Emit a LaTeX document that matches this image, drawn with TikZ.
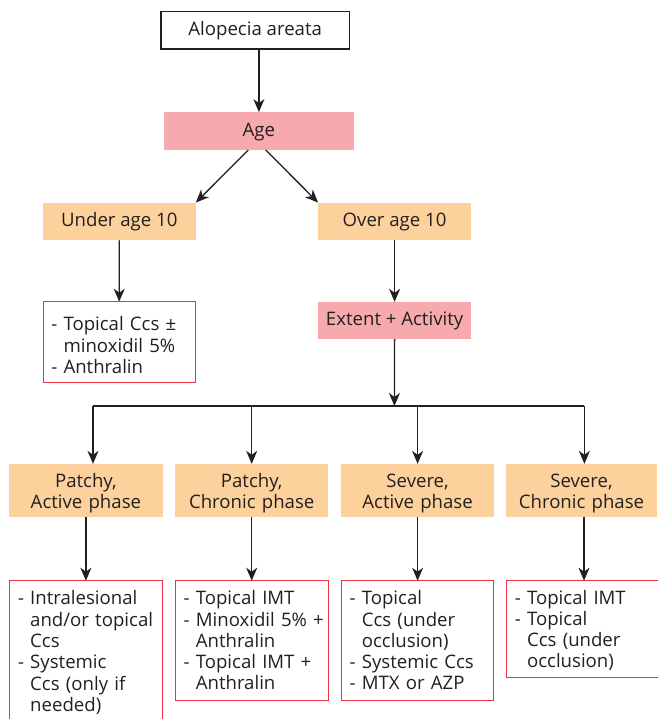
\documentclass[tikz,border=0pt]{standalone}
\usepackage{fontspec}
\setmainfont{Open Sans}
\usetikzlibrary{arrows.meta}
\definecolor{txt}{HTML}{231F20}
\definecolor{pinkf}{HTML}{F6AAAD}
\definecolor{peach}{HTML}{FDD19C}
\definecolor{redb}{HTML}{E8333E}
\newcommand\ind{\hphantom{-\ }}
\newcommand\lns[1]{\begin{tabular}{@{}l@{}}#1\end{tabular}}
\newcommand\ctr[1]{\begin{tabular}{@{}c@{}}#1\end{tabular}}
\begin{document}
\begin{tikzpicture}[x=1pt,y=-1pt, color=txt,
  every node/.style={font=\fontsize{18.6}{21.3}\selectfont, inner sep=0pt},
  box/.style 2 args={rectangle, minimum width=#1, minimum height=#2},
  one/.style={text height=14pt, text depth=3pt},
  topbox/.style 2 args={box={#1}{#2}, one, draw=txt, line width=1.3pt, fill=white},
  pinkbox/.style 2 args={box={#1}{#2}, one, fill=pinkf},
  peachbox/.style 2 args={box={#1}{#2}, one, fill=peach},
  peachtwo/.style 2 args={box={#1}{#2}, fill=peach, text width=#1, align=center, execute at begin node={\vspace*{-7.3pt}}},
  listbox/.style 2 args={box={#1}{#2}, inner xsep=8pt, text width=#1-16pt, align=left, execute at begin node={\vspace*{-5pt}}},
  frame/.style={draw=redb, line width=1.2pt},
  conn/.style={draw=txt, line width=1.3pt},
  arr/.style={conn, -{Stealth[length=13pt,width=11pt,inset=4pt]}}
]
\useasboundingbox (0,0) rectangle (657,719);

\node[topbox={188.3pt}{37.3pt}] (aa) at (255.2,30.3) {Alopecia areata};
\node[pinkbox={189.7pt}{37.4pt}] (age) at (258.9,131) {Age};
\node[peachbox={152.7pt}{37.3pt}] (u10) at (119.3,221.4) {Under age 10};
\node[peachbox={152.7pt}{37.3pt}] (o10) at (394.6,221.4) {Over age 10};
\node[listbox={151.7pt}{80pt}, anchor=north, execute at begin node={\vspace*{-7pt}}] (t1) at (119.2,301.7) {\lns{- Topical Ccs ±\\\ind minoxidil 5\%\\- Anthralin}};
\node[pinkbox={152.7pt}{36.7pt}] (ea) at (394.6,320.4) {Extent + Activity};

\node[peachtwo={153.3pt}{52.7pt}] (p1) at (85.9,490.4) {\ctr{Patchy,\\Active phase}};
\node[peachtwo={153.3pt}{52.7pt}] (p2) at (251.7,490.4) {\ctr{Patchy,\\Chronic phase}};
\node[peachtwo={153.3pt}{52.7pt}] (p3) at (417.6,490.4) {\ctr{Severe,\\Active phase}};
\node[peachtwo={151pt}{52.7pt}] (p4) at (581.5,490.4) {\ctr{Severe,\\Chronic phase}};

\node[listbox={152.3pt}{141pt}, anchor=north] (ba) at (86.2,580.7) {\lns{- Intralesional\\\ind and/or topical\\\ind Ccs\\- Systemic\\\ind Ccs (only if\\\ind needed)}};
\node[listbox={152.7pt}{119.3pt}, anchor=north] (bb) at (252,580.7) {\lns{- Topical IMT\\- Minoxidil 5\% +\\\ind Anthralin\\- Topical IMT +\\\ind Anthralin}};
\node[listbox={151.7pt}{119.3pt}, anchor=north] (bc) at (417.5,580.7) {\lns{- Topical\\\ind Ccs (under\\\ind occlusion)\\- Systemic Ccs\\- MTX or AZP}};
\node[listbox={152pt}{96.7pt}, anchor=north west] (bd) at (506.7,580.7) {\lns{- Topical IMT\\- Topical\\\ind Ccs (under\\\ind occlusion)}};

\draw[arr] (age.north |- aa.south) -- (age.north);
\draw[arr] ([xshift=-10.6pt]age.south) -- (u10.north east);
\draw[arr] ([xshift=6.8pt]age.south) -- (o10.north west);
\draw[arr] (u10.south) -- (t1.north);
\draw[arr] (o10.south) -- (ea.north);

\coordinate (j) at (394.4,406);
\coordinate (hl) at (93,406);
\coordinate (hr) at (584.4,406);
\draw[arr] (ea.south) -- (j);
\draw[conn] (hl) -- (hr);
\draw[arr] (hl) -- (hl |- p1.north);
\draw[arr] (p2.north |- hl) -- (p2.north);
\draw[arr] (p3.north |- hl) -- (p3.north);
\draw[arr] (hr) -- (hr |- p4.north);

\draw[arr] (p1.south) -- (p1.south |- ba.north);
\draw[arr] (p2.south) -- (p2.south |- bb.north);
\draw[arr] (p3.south) -- (p3.south |- bc.north);
\draw[arr] ([xshift=2.5pt]p4.south) -- ([xshift=2.5pt]p4.south |- bd.north);

\foreach \b in {t1,ba,bb,bc,bd}
  \draw[frame] (\b.north west) rectangle (\b.south east);
\end{tikzpicture}
\end{document}
